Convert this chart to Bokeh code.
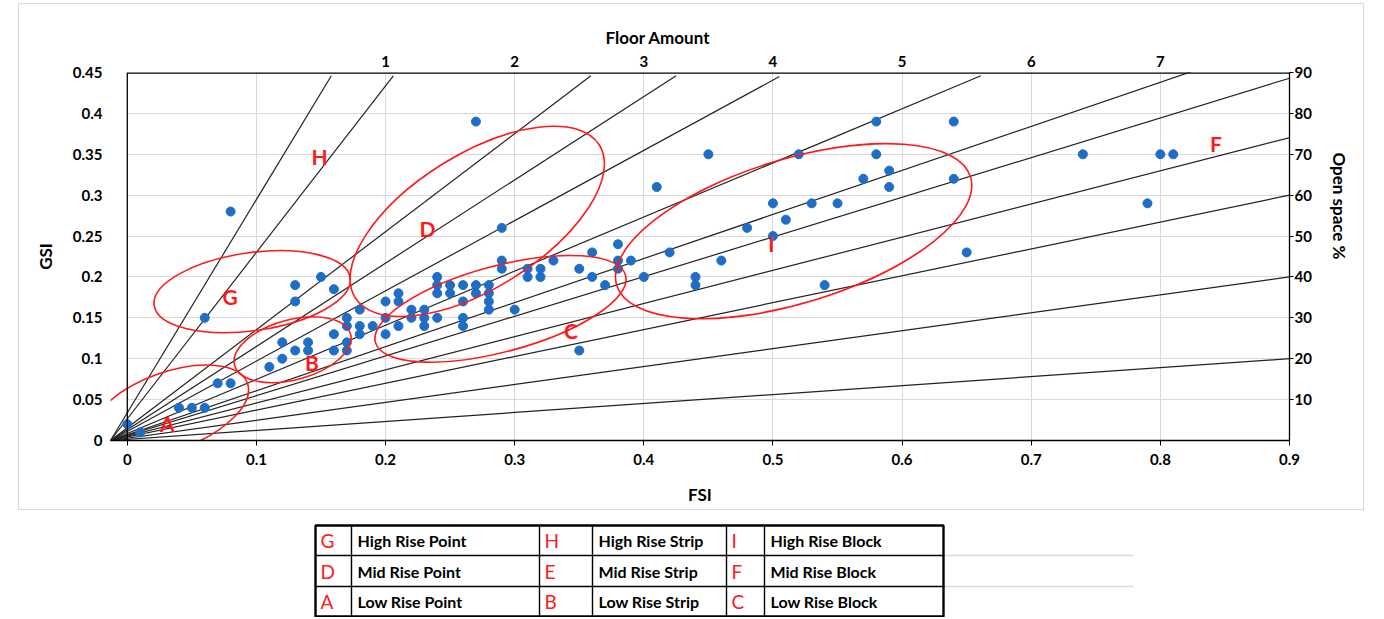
import math
from bokeh.plotting import figure
from bokeh.models import Range1d, LinearAxis, FixedTicker, Span, Title, Spacer
from bokeh.layouts import column, row
from bokeh.embed import file_html
from bokeh.resources import INLINE
from bokeh.core.properties import value

FONT = "Lato"

# ---------------- data ----------------
fsi = [0.00, 0.01, 0.04, 0.05, 0.06, 0.07, 0.08, 0.06, 0.08,
       0.11, 0.12, 0.12, 0.13, 0.14, 0.14, 0.13, 0.13, 0.15, 0.16,
       0.16, 0.16, 0.17, 0.17, 0.17, 0.17,
       0.18, 0.18, 0.18, 0.19,
       0.20, 0.20, 0.20,
       0.21, 0.21, 0.21,
       0.22, 0.22,
       0.23, 0.23, 0.23,
       0.24, 0.24, 0.24, 0.24,
       0.25, 0.25,
       0.26, 0.26, 0.26, 0.26,
       0.27, 0.27, 0.27,
       0.28, 0.28, 0.28, 0.28,
       0.29, 0.29, 0.29,
       0.30,
       0.31, 0.31, 0.32, 0.32, 0.33,
       0.35, 0.35, 0.36, 0.36, 0.37,
       0.38, 0.38, 0.38, 0.39,
       0.40, 0.41, 0.42, 0.44, 0.44, 0.45, 0.46,
       0.48, 0.50, 0.50, 0.51, 0.52, 0.53, 0.54, 0.55,
       0.57, 0.58, 0.58, 0.59, 0.59,
       0.64, 0.64, 0.65,
       0.74, 0.79, 0.80, 0.81]
gsi = [0.02, 0.01, 0.04, 0.04, 0.04, 0.07, 0.07, 0.15, 0.28,
       0.09, 0.10, 0.12, 0.11, 0.12, 0.11, 0.17, 0.19, 0.20, 0.185,
       0.13, 0.11, 0.12, 0.11, 0.15, 0.14,
       0.16, 0.14, 0.13, 0.14,
       0.17, 0.15, 0.13,
       0.18, 0.17, 0.14,
       0.16, 0.15,
       0.16, 0.15, 0.14,
       0.20, 0.19, 0.18, 0.15,
       0.19, 0.18,
       0.19, 0.17, 0.15, 0.14,
       0.19, 0.18, 0.39,
       0.19, 0.18, 0.17, 0.16,
       0.26, 0.22, 0.21,
       0.16,
       0.21, 0.20, 0.21, 0.20, 0.22,
       0.21, 0.11, 0.23, 0.20, 0.19,
       0.24, 0.22, 0.21, 0.22,
       0.20, 0.31, 0.23, 0.20, 0.19, 0.35, 0.22,
       0.26, 0.29, 0.25, 0.27, 0.35, 0.29, 0.19, 0.29,
       0.32, 0.39, 0.35, 0.33, 0.31,
       0.39, 0.32, 0.23,
       0.35, 0.29, 0.35, 0.35]

# floor-amount / open-space guide lines (from a common origin)
fan_origin_fsi = -0.013
fan_origin_gsi = 0.0
fan_end_fsi = [0.158, 0.206, 0.359, 0.425, 0.505, 0.661, 0.824, 0.900, 0.914, 0.900, 0.900, 0.900]
fan_end_gsi = [0.446, 0.446, 0.446, 0.446, 0.445, 0.446, 0.451, 0.443, 0.376, 0.300, 0.200, 0.100]

fsi_ticks = [0, 0.1, 0.2, 0.3, 0.4, 0.5, 0.6, 0.7, 0.8, 0.9]
fsi_tick_labels = ["0", "0.1", "0.2", "0.3", "0.4", "0.5", "0.6", "0.7", "0.8", "0.9"]
gsi_ticks = [0, 0.05, 0.1, 0.15, 0.2, 0.25, 0.3, 0.35, 0.4, 0.45]
gsi_tick_labels = ["0", "0.05", "0.1", "0.15", "0.2", "0.25", "0.3", "0.35", "0.4", "0.45"]
floor_ticks = [0.2, 0.3, 0.4, 0.5, 0.6, 0.7, 0.8]
floor_labels = ["1", "2", "3", "4", "5", "6", "7"]
open_ticks = [10, 20, 30, 40, 50, 60, 70, 80, 90]
open_labels = ["10", "20", "30", "40", "50", "60", "70", "80", "90"]

zone_letters = [["G", "H", "I"], ["D", "E", "F"], ["A", "B", "C"]]
zone_names = [["High Rise Point", "High Rise Strip", "High Rise Block"],
              ["Mid Rise Point", "Mid Rise Strip", "Mid Rise Block"],
              ["Low Rise Point", "Low Rise Strip", "Low Rise Block"]]

# region annotations
ellipse_zone = ["A", "G", "B", "D", "C", "I"]
ellipse_fsi = [0.0326, 0.0967, 0.128, 0.271, 0.289, 0.516]
ellipse_gsi = [0.0355, 0.182, 0.111, 0.268, 0.161, 0.256]
letter_zone = ["H", "D", "G", "B", "A", "C", "I", "F"]
letter_fsi = [0.149, 0.2325, 0.0797, 0.143, 0.031, 0.3436, 0.4988, 0.843]
letter_gsi = [0.347, 0.259, 0.176, 0.0954, 0.0208, 0.134, 0.241, 0.363]

# ---------------- styling / layout ----------------
ELL_W = [166, 198, 120, 288, 259, 370]
ELL_H = [78, 78, 60, 134, 86, 144]
ELL_DEG = [20, 8, 15, 32, 15, 17]
RED = "#FF1A1A"
BLUE = "#1F6EC6"
GRID = "#D9D9D9"

X0, X1 = fan_origin_fsi, fsi_ticks[-1]
Y0, Y1 = gsi_ticks[0], gsi_ticks[-1]

p = figure(width=1346, height=507, x_range=Range1d(X0, X1), y_range=Range1d(Y0, Y1),
           output_backend="svg", toolbar_location=None,
           min_border_left=91, min_border_right=72, min_border_top=68, min_border_bottom=71)
p.styles = {"border": "1px solid #D9D9D9"}
p.outline_line_color = None
p.background_fill_color = "white"

p.title = Title(text="Floor Amount", align="left", offset=495, standoff=9,
                text_font=FONT, text_font_size="17px", text_font_style="bold",
                text_color="black")
p.title_location = "above"

p.xgrid.ticker = FixedTicker(ticks=fsi_ticks)
p.ygrid.ticker = FixedTicker(ticks=gsi_ticks)
p.grid.grid_line_color = GRID
p.grid.grid_line_width = 1

# mask grid left of the FSI=0 spine
p.quad(left=[X0], right=[0], bottom=[Y0], top=[Y1], fill_color="white", line_color=None)

n = len(fan_end_fsi)
p.segment(x0=[fan_origin_fsi] * n, y0=[fan_origin_gsi] * n, x1=fan_end_fsi, y1=fan_end_gsi,
          line_color="#222222", line_width=1.2)

p.scatter(fsi, gsi, size=9, fill_color=BLUE, line_color=BLUE)

p.ellipse(x=ellipse_fsi, y=ellipse_gsi, width=ELL_W, height=ELL_H,
          angle=[math.radians(a) for a in ELL_DEG],
          width_units="screen", height_units="screen",
          fill_color=None, line_color=RED, line_width=1.6)

p.text(x=letter_fsi, y=letter_gsi, text=letter_zone, text_font=value(FONT),
       text_font_size="21px", text_font_style="bold", text_color=RED,
       text_align="center", text_baseline="middle")

# spines
p.add_layout(Span(location=0, dimension="height", line_color="black", line_width=1.3))
p.segment(x0=[0], y0=[Y1], x1=[X1], y1=[Y1], line_color="black", line_width=2.4)

def style_axis(ax, size="15px"):
    ax.major_label_text_font = FONT
    ax.major_label_text_font_size = size
    ax.major_label_text_font_style = "bold"
    ax.major_label_text_color = "black"
    ax.axis_label_text_font = FONT
    ax.axis_label_text_font_size = "17px"
    ax.axis_label_text_font_style = "bold"
    ax.axis_label_text_color = "black"
    ax.minor_tick_line_color = None

xa = p.xaxis[0]
xa.ticker = FixedTicker(ticks=fsi_ticks)
xa.major_label_overrides = dict(zip(fsi_ticks, fsi_tick_labels))
xa.axis_label = "FSI"
style_axis(xa)
xa.axis_line_color = "black"
xa.axis_line_width = 1.3
xa.major_tick_line_color = "black"
xa.major_tick_out = 5
xa.major_tick_in = 0
xa.major_label_standoff = 8
xa.axis_label_standoff = 16

ya = p.yaxis[0]
ya.ticker = FixedTicker(ticks=gsi_ticks)
ya.major_label_overrides = dict(zip(gsi_ticks, gsi_tick_labels))
ya.axis_label = "GSI"
style_axis(ya)
ya.axis_line_color = None
ya.major_tick_line_color = None
ya.major_label_standoff = 2
ya.axis_label_standoff = 14

top = LinearAxis(ticker=FixedTicker(ticks=floor_ticks),
                 major_label_overrides=dict(zip(floor_ticks, floor_labels)))
style_axis(top)
top.axis_line_color = None
top.major_tick_line_color = None
top.major_label_standoff = 0
p.add_layout(top, "above")

p.extra_y_ranges = {"open": Range1d(0, 90)}
right = LinearAxis(y_range_name="open", ticker=FixedTicker(ticks=open_ticks),
                   major_label_overrides=dict(zip(open_ticks, open_labels)))
style_axis(right)
right.axis_line_color = "black"
right.axis_line_width = 1.3
right.major_tick_line_color = "black"
right.major_tick_out = 4
right.major_tick_in = 0
right.major_label_standoff = 1
p.add_layout(right, "right")

p.add_layout(Title(text="Open space %", align="left", offset=80, standoff=28,
                   text_font=FONT, text_font_size="17px", text_font_style="bold",
                   text_color="black"), "right")

# ---------------- legend table ----------------
COL_EDGES = [315, 351, 539, 592, 726, 764, 943]
ROW_EDGES = [527, 557, 588, 618]

t = figure(width=1384, height=107, x_range=Range1d(0, 1384), y_range=Range1d(619, 512),
           output_backend="svg", toolbar_location=None, min_border=0,
           x_axis_location=None, y_axis_location=None)
t.grid.visible = False
t.outline_line_color = None
t.background_fill_color = "white"

# spreadsheet grid lines continuing right of table
t.segment(x0=[COL_EDGES[-1]] * 2, y0=ROW_EDGES[1:3], x1=[1133] * 2, y1=ROW_EDGES[1:3],
          line_color=GRID, line_width=1.5)
# inner lines
t.segment(x0=COL_EDGES[1:-1], y0=[ROW_EDGES[0]] * 5, x1=COL_EDGES[1:-1], y1=[ROW_EDGES[-1]] * 5,
          line_color="black", line_width=1.4)
t.segment(x0=[COL_EDGES[0]] * 2, y0=ROW_EDGES[1:3], x1=[COL_EDGES[-1]] * 2, y1=ROW_EDGES[1:3],
          line_color="black", line_width=1.4)
t.quad(left=[COL_EDGES[0]], right=[COL_EDGES[-1]], top=[ROW_EDGES[0]], bottom=[ROW_EDGES[-1]],
       fill_color=None, line_color="black", line_width=2.4)

lx, ly, lt, nx, ny, nt = [], [], [], [], [], []
for r in range(3):
    yc = (ROW_EDGES[r] + ROW_EDGES[r + 1]) / 2
    for c in range(3):
        lx.append(COL_EDGES[2 * c] + 5)
        ly.append(yc)
        lt.append(zone_letters[r][c])
        nx.append(COL_EDGES[2 * c + 1] + 6)
        ny.append(yc)
        nt.append(zone_names[r][c])

t.text(x=lx, y=ly, text=lt, text_font=value(FONT), text_font_size="19px",
       text_color=RED, text_baseline="middle", text_align="left")
t.text(x=nx, y=ny, text=nt, text_font=value(FONT), text_font_size="16px",
       text_font_style="bold", text_color="black", text_baseline="middle", text_align="left")

layout = column(Spacer(height=3), row(Spacer(width=18), p), t)
open("out.html", "w").write(file_html(layout, INLINE))
